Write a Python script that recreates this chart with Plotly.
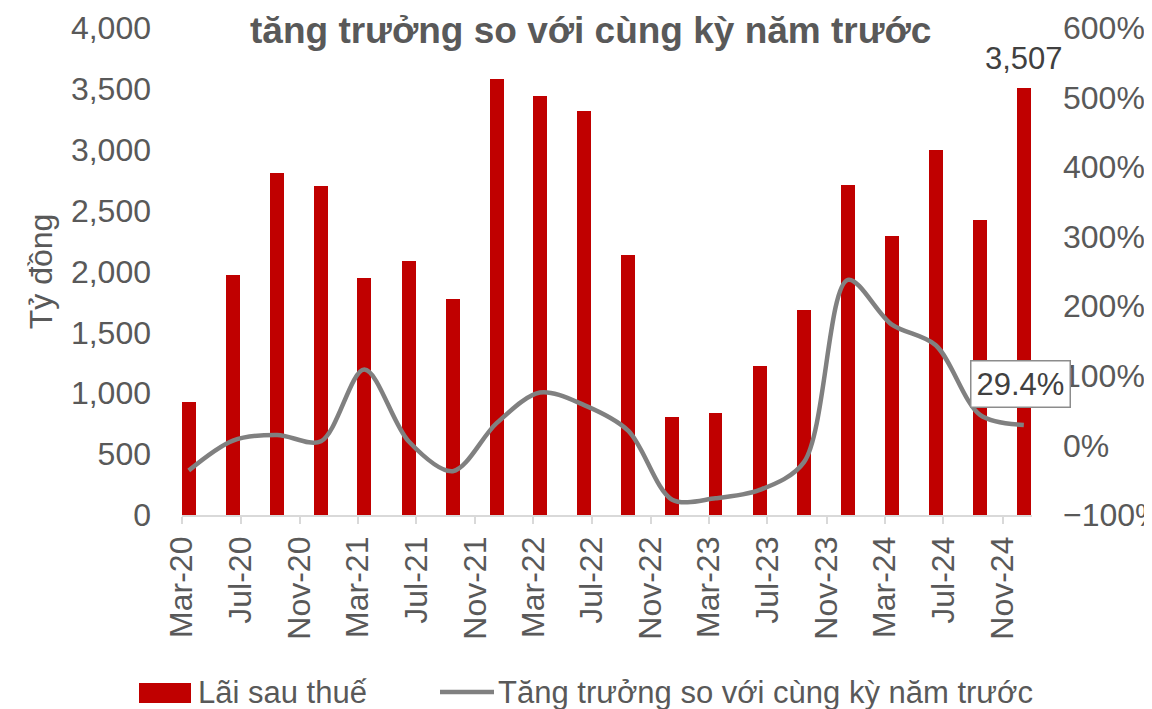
import plotly.graph_objects as go

quarters = ["2020-03-15", "2020-06-15", "2020-09-15", "2020-12-15",
            "2021-03-15", "2021-06-15", "2021-09-15", "2021-12-15",
            "2022-03-15", "2022-06-15", "2022-09-15", "2022-12-15",
            "2023-03-15", "2023-06-15", "2023-09-15", "2023-12-15",
            "2024-03-15", "2024-06-15", "2024-09-15", "2024-12-15"]
profit = [930, 1970, 2810, 2700, 1950, 2090, 1775, 3580, 3440, 3320,
          2135, 805, 838, 1224, 1684, 2710, 2292, 2998, 2423, 3507]
growth = [-36, 7, 15, 6, 109, 6, -37, 32, 76, 58,
          21, -78, -76, -64, -24, 238, 174, 144, 44, 29.4]

series_bar = "Lãi sau thuế"
series_line = "Tăng trưởng so với cùng kỳ năm trước"
title_text = "tăng trưởng so với cùng kỳ năm trước"
y_title = "Tỷ đồng"

FONT = "Liberation Sans"
GREY = "#595959"
DARK = "#404040"
RED = "#C00000"
LINE_GREY = "#808080"
DAY_MS = 86400000
FS = 32

fig = go.Figure()
fig.add_trace(go.Bar(
    x=quarters, y=profit, name=series_bar,
    marker=dict(color=RED, line=dict(width=0)),
    width=29 * DAY_MS,
    yaxis="y",
))
fig.add_trace(go.Scatter(
    x=quarters, y=growth, name=series_line, mode="lines",
    line=dict(color=LINE_GREY, width=4.5, shape="spline", smoothing=0.9),
    yaxis="y2",
))

# data label on last bar
fig.add_annotation(x=quarters[-1], y=profit[-1], xref="x", yref="y",
                   text=f"{profit[-1]:,}", showarrow=False,
                   yanchor="middle", yshift=30,
                   font=dict(family=FONT, size=31, color=DARK))
# data label on last growth point
fig.add_annotation(x=quarters[-1], y=growth[-1], xref="x", yref="y2",
                   text=f"{growth[-1]}%", showarrow=False,
                   xshift=-3, yshift=41,
                   bgcolor="white", bordercolor="#8c8c8c", borderwidth=1.5,
                   borderpad=5,
                   font=dict(family=FONT, size=31, color=DARK))
# title
fig.add_annotation(x=0.48, y=1, xref="paper", yref="paper",
                   text=f"<b>{title_text}</b>", showarrow=False,
                   yanchor="top", yshift=20,
                   font=dict(family=FONT, size=37, color=GREY))

# manual legend (large symbols as in the reference); coordinates in page pixels
def px_x(px):
    return (px - 182) / 850.0

def px_y(py):
    return (515 - py) / 487.0

fig.add_shape(type="rect", xref="paper", yref="paper",
              x0=px_x(139), x1=px_x(191), y0=px_y(703), y1=px_y(683),
              fillcolor=RED, line=dict(width=0))
fig.add_annotation(x=px_x(196), y=px_y(692), xref="paper", yref="paper",
                   text=series_bar, showarrow=False, xanchor="left", yanchor="middle",
                   font=dict(family=FONT, size=31, color=GREY))
fig.add_shape(type="line", xref="paper", yref="paper",
              x0=px_x(440), x1=px_x(494), y0=px_y(692), y1=px_y(692),
              line=dict(color=LINE_GREY, width=4.5))
fig.add_annotation(x=px_x(496), y=px_y(692), xref="paper", yref="paper",
                   text=series_line, showarrow=False, xanchor="left", yanchor="middle",
                   font=dict(family=FONT, size=31, color=GREY))

# page has an 8px body margin: plot area should sit at page x 182-1032, y 28-515
fig.update_layout(
    width=1152, height=709,
    margin=dict(l=174, r=128, t=20, b=202, autoexpand=False),
    paper_bgcolor="white", plot_bgcolor="white",
    font=dict(family=FONT, size=FS, color=GREY),
    bargap=0,
    showlegend=False,
    xaxis=dict(
        type="date", automargin=False,
        range=["2020-03-01", "2025-01-01"],
        tick0="2020-03-01", dtick="M4", tickformat="%b-%y",
        tickangle=-90,
        showgrid=False, zeroline=False,
        showline=True, linecolor="#d9d9d9", linewidth=1.5,
        ticks="outside", ticklen=7, tickcolor="#d9d9d9", tickwidth=1.5,
        tickfont=dict(family=FONT, size=FS, color=GREY),
    ),
    yaxis=dict(
        range=[0, 4000], dtick=500, tickformat=",", automargin=False,
        showgrid=False, zeroline=False, showline=False,
        tickfont=dict(family=FONT, size=FS, color=GREY),
        ticklabelstandoff=30,
        title=dict(text=y_title, font=dict(family=FONT, size=FS, color=GREY),
                   standoff=8),
    ),
    yaxis2=dict(
        range=[-100, 600], dtick=100, ticksuffix="%", automargin=False,
        overlaying="y", side="right",
        showgrid=False, zeroline=False, showline=False,
        tickfont=dict(family=FONT, size=FS, color=GREY),
        ticklabelstandoff=30,
    ),
)

fig.write_html("out.html")
